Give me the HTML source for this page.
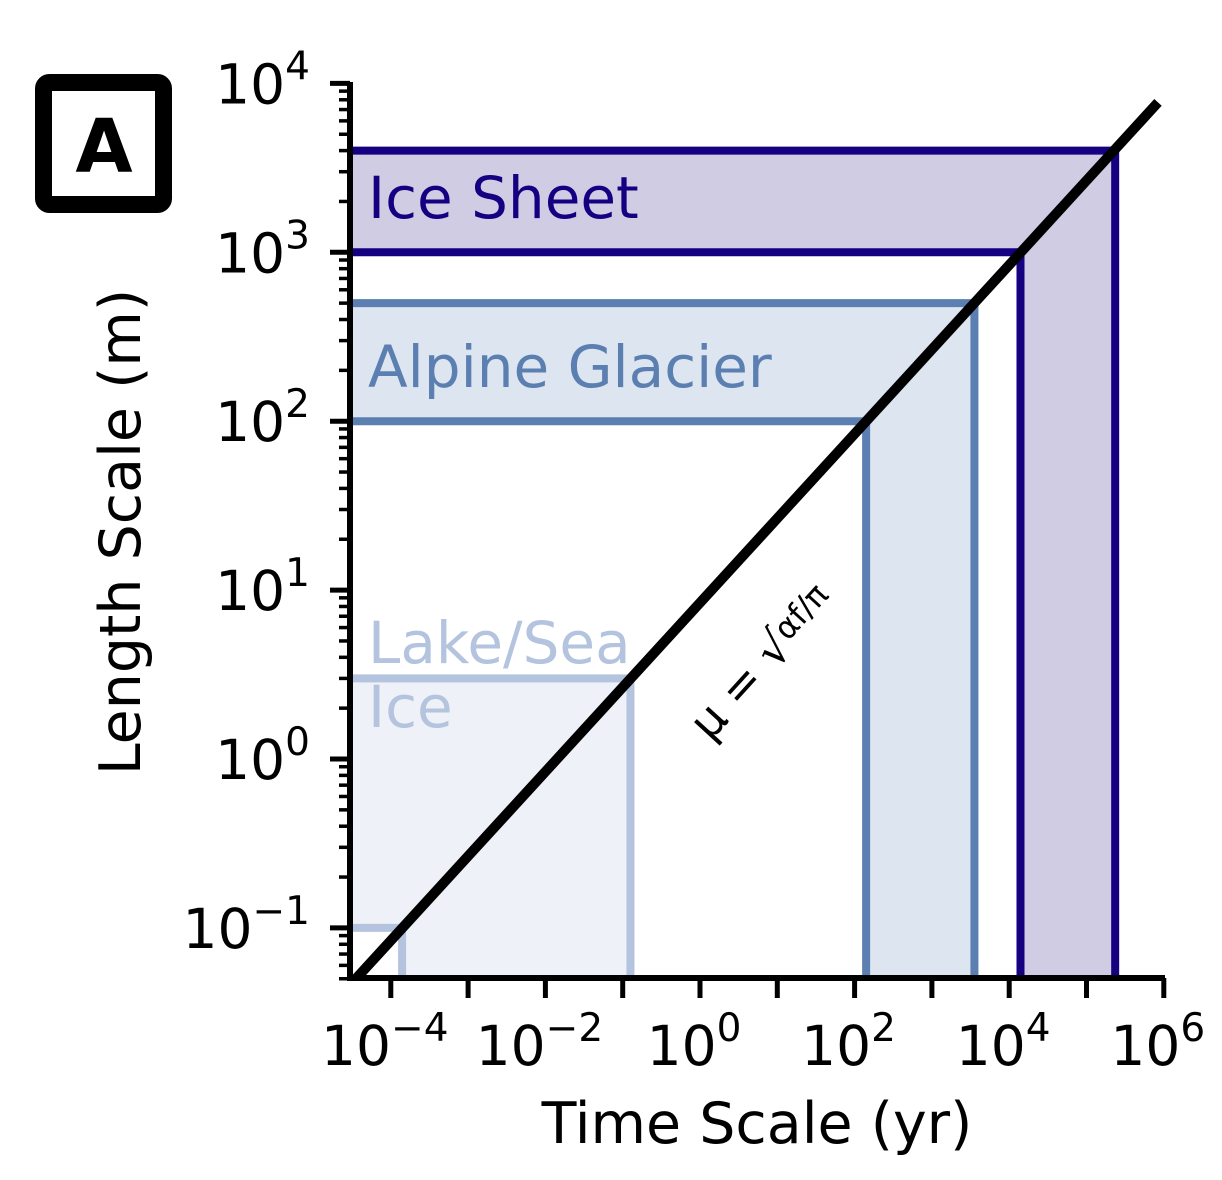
<!DOCTYPE html>
<html><head><meta charset="utf-8"><style>
body{margin:0;background:#fff;}
svg{display:block;font-family:"DejaVu Sans","Liberation Sans",sans-serif;}
</style></head><body>
<svg id="chart" width="1222" height="1180" viewBox="0 0 1222 1180">
<defs><clipPath id="plotclip"><rect x="347" y="82" width="818" height="896"/></clipPath></defs>
<g>
<rect x="43.5" y="82.5" width="120" height="122" rx="6" fill="#fff" stroke="#000" stroke-width="17"/>
<text x="104" y="172" font-size="74" font-weight="bold" text-anchor="middle">A</text>
</g>
<g id="regions" clip-path="url(#plotclip)"></g>
<g id="lines" clip-path="url(#plotclip)"></g>
<g id="axes"></g>
<text transform="translate(140,532) rotate(-90)" font-size="57" text-anchor="middle">Length Scale (m)</text>
<text x="757" y="1143" font-size="57" text-anchor="middle">Time Scale (yr)</text>
<text transform="translate(710,742) rotate(-47.6)" font-size="46">μ = √<tspan font-size="32" dy="-10">αf/π</tspan></text>
</svg>
<script>
const regionNames=["lake-sea-ice","alpine-glacier","ice-sheet"];
const regionLabels=[["Lake/Sea","Ice"],["Alpine Glacier"],["Ice Sheet"]];
const regionLmin=[0.1,100,1000];
const regionLmax=[3,500,4000];
const regionTmin=[1.4e-4,141,1.4e4];
const regionTmax=[0.126,3550,2.35e5];
const lineT=[1e-5,1e6];
const lineL=[0.0266,8414];
const xTicks=[-4,-3,-2,-1,0,1,2,3,4,5,6];
const xLabelExp=[-4,-2,0,2,4,6];
const yLabelExp=[-1,0,1,2,3,4];

const lineColors=["#b4c3de","#5a7fb0","#140080"];
const fillColors=["#eef1f7","#dde5f0","#cfcce4"];
const X0=350,X1=1165,Y0=978,Y1=82;
const xs=t=>700+77.3*Math.log10(t);
const ys=L=>759-168.9*Math.log10(L);
const NS="http://www.w3.org/2000/svg";
function mk(tag,attrs,parent){const e=document.createElementNS(NS,tag);for(const k in attrs)e.setAttribute(k,attrs[k]);parent.appendChild(e);return e;}
const gR=document.getElementById('regions'),gL=document.getElementById('lines'),gA=document.getElementById('axes');
const labelY=[[663,727],[387],[218]];
for(let i=0;i<regionNames.length;i++){
 const a=xs(regionTmin[i]),b=xs(regionTmax[i]),lo=ys(regionLmin[i]),hi=ys(regionLmax[i]);
 const p=mk('polygon',{points:`${X0},${hi} ${b},${hi} ${b},${Y0} ${a},${Y0} ${a},${lo} ${X0},${lo}`,fill:fillColors[i]},gR);
 
 
 const pl=mk('polyline',{points:`${X0},${hi} ${b},${hi} ${b},${Y0}`,fill:'none',stroke:lineColors[i],'stroke-width':8},gR);
 
 
 const pl2=mk('polyline',{points:`${X0},${lo} ${a},${lo} ${a},${Y0}`,fill:'none',stroke:lineColors[i],'stroke-width':8},gR);
 
 
 regionLabels[i].forEach((s,j)=>{
  const t=mk('text',{x:368,y:labelY[i][j],'font-size':58,fill:lineColors[i]},document.getElementById('chart'));
  t.textContent=s;
  
  
 });
}
const lx1=xs(lineT[0]),ly1=ys(lineL[0]),lx2=xs(lineT[1]),ly2=ys(lineL[1]);
const endX=1158,endY=ly1+(ly2-ly1)*(endX-lx1)/(lx2-lx1);
const ln=mk('line',{x1:lx1,y1:ly1,x2:endX,y2:endY,stroke:'#000','stroke-width':10},gL);


const ya=mk('line',{x1:X0,y1:Y1,x2:X0,y2:Y0+3,stroke:'#000','stroke-width':6},gA);


const xa=mk('line',{x1:X0-3,y1:Y0,x2:X1,y2:Y0,stroke:'#000','stroke-width':6},gA);


xTicks.forEach(e=>{const x=xs(Math.pow(10,e));const t=mk('line',{x1:x,y1:Y0,x2:x,y2:Y0+20,stroke:'#000','stroke-width':5},gA);
 
 });
xLabelExp.forEach(e=>{const x=xs(Math.pow(10,e));const t=mk('text',{x:x-6,y:1065,'font-size':55,'text-anchor':'middle'},gA);
 t.innerHTML=`10<tspan dy="-24" font-size="39">${e<0?'−'+(-e):e}</tspan>`;
 
 });
for(let e=-2;e<=4;e++){for(let m=1;m<10;m++){const v=m*Math.pow(10,e);const y=ys(v);if(y>Y0+1||y<Y1-1)continue;
 const t=mk('line',{x1:X0,y1:y,x2:X0-(m==1?20:11),y2:y,stroke:'#000','stroke-width':m==1?5:3.5},gA);
 
 }}
yLabelExp.forEach(e=>{const y=ys(Math.pow(10,e));const t=mk('text',{x:310,y:y+20,'font-size':55,'text-anchor':'end'},gA);
 t.innerHTML=`10<tspan dy="-24" font-size="39">${e<0?'−'+(-e):e}</tspan>`;
 
 });
</script>
</body></html>
